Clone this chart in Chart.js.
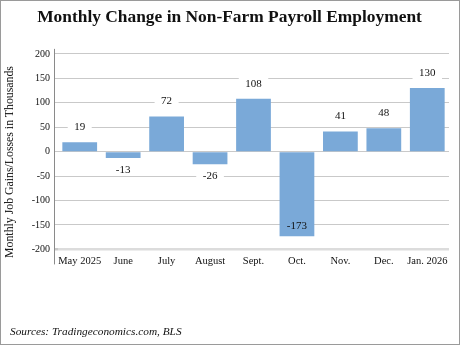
<!DOCTYPE html>
<html>
<head>
<meta charset="utf-8">
<script src="https://cdn.jsdelivr.net/npm/chart.js@4/dist/chart.umd.min.js"></script>
<style>
  html, body { margin: 0; padding: 0; background: #fff; }
  #wrap { position: relative; width: 460px; height: 345px; }
  #wrap::after {
    content: ""; position: absolute; left: 0; top: 0; right: 0; bottom: 0;
    border: 1px solid #9a9a9a; box-sizing: border-box; pointer-events: none;
  }
  canvas { display: block; }
  #source {
    position: absolute; left: 10px; top: 325px;
    font: italic 11.3px 'Liberation Serif', 'DejaVu Serif', serif; color: #111;
  }
  #ytitle {
    position: absolute; left: -91px; top: 155px; width: 200px; height: 14px;
    line-height: 14px; text-align: center; white-space: nowrap;
    transform: rotate(-90deg);
    font: 11.8px 'Liberation Serif', 'DejaVu Serif', serif; color: #111;
  }
</style>
</head>
<body>
<div id="wrap">
  <canvas id="payrolls" width="460" height="345"></canvas>
  <div id="ytitle">Monthly Job Gains/Losses in Thousands</div>
  <div id="source">Sources: Tradingeconomics.com, BLS</div>
</div>
<script>
// monthly change in non-farm payrolls, thousands of jobs
const months = ["May 2025", "June", "July", "August", "Sept.", "Oct.", "Nov.", "Dec.", "Jan. 2026"];
const changes = [19, -13, 72, -26, 108, -173, 41, 48, 130];

const yMin = -200;
const yMax = 200;
const yStep = 50;

const serif = "'Liberation Serif', 'DejaVu Serif', serif";
const barBlue = "#7aa9d8";
const gridGrey = "#c9c9c9";
const baseGrey = "#dcdcdc";

// value labels: above positive bars, below small negative ones,
// inside the end of the big drop, on a white box over the grid
const valueLabels = {
  id: "valueLabels",
  afterDatasetsDraw(chart) {
    const ctx = chart.ctx;
    const meta = chart.getDatasetMeta(0);
    ctx.save();
    ctx.font = "11px " + serif;
    ctx.textAlign = "center";
    ctx.textBaseline = "middle";
    meta.data.forEach((bar, i) => {
      const v = changes[i];
      const text = String(v);
      let y;
      let inside = false;
      if (v >= 0) {
        y = bar.y - 15;
      } else if (v < -100) {
        y = bar.y - 10;
        inside = true;
      } else {
        y = bar.y + 12;
      }
      const w = ctx.measureText(text).width + 13;
      if (!inside) {
        ctx.fillStyle = "#fff";
        ctx.fillRect(bar.x - w / 2, y - 6, w, 12);
      }
      ctx.fillStyle = "#111";
      ctx.fillText(text, bar.x, y);
    });
    ctx.restore();
  }
};

// the left axis rule sits at the end of the tick stubs and runs
// a little past the plot at both ends
const axisRule = {
  id: "axisRule",
  afterDraw(chart) {
    const { ctx, chartArea } = chart;
    const x = chartArea.left - 4 + 0.5;
    ctx.save();
    ctx.strokeStyle = "#8a8a8a";
    ctx.lineWidth = 1;
    ctx.beginPath();
    ctx.moveTo(x, chartArea.top - 5);
    ctx.lineTo(x, chartArea.bottom + 15);
    ctx.stroke();
    ctx.restore();
  }
};

new Chart(document.getElementById("payrolls"), {
  type: "bar",
  data: {
    labels: months,
    datasets: [
      {
        data: changes,
        backgroundColor: barBlue,
        borderWidth: 0,
        categoryPercentage: 1,
        barPercentage: 0.8
      }
    ]
  },
  options: {
    responsive: false,
    animation: false,
    layout: { padding: { left: 10, right: 11, top: 0, bottom: 71 } },
    plugins: {
      legend: { display: false },
      tooltip: { enabled: false },
      title: {
        display: true,
        text: "Monthly Change in Non-Farm Payroll Employment",
        color: "#111",
        font: { family: serif, size: 17.4, weight: "bold" },
        padding: { top: 7, bottom: 26 }
      }
    },
    scales: {
      x: {
        grid: { display: false, drawTicks: false },
        border: { display: false },
        ticks: {
          color: "#111",
          font: { family: serif, size: 10.5 },
          padding: 6,
          maxRotation: 0,
          autoSkip: false
        }
      },
      y: {
        min: yMin,
        max: yMax,
        afterFit(scale) {
          scale.width = 48;
        },
        ticks: {
          stepSize: yStep,
          color: "#111",
          font: { family: serif, size: 10 },
          padding: 4
        },
        grid: {
          // the bottom line doubles as the category axis, drawn heavier
          color: (c) => (c.tick && c.tick.value === yMin ? baseGrey : gridGrey),
          lineWidth: (c) => (c.tick && c.tick.value === yMin ? 2.5 : 1),
          drawTicks: true,
          tickLength: 4,
          tickColor: gridGrey
        },
        border: { display: false }
      }
    }
  },
  plugins: [valueLabels, axisRule]
});
</script>
</body>
</html>
